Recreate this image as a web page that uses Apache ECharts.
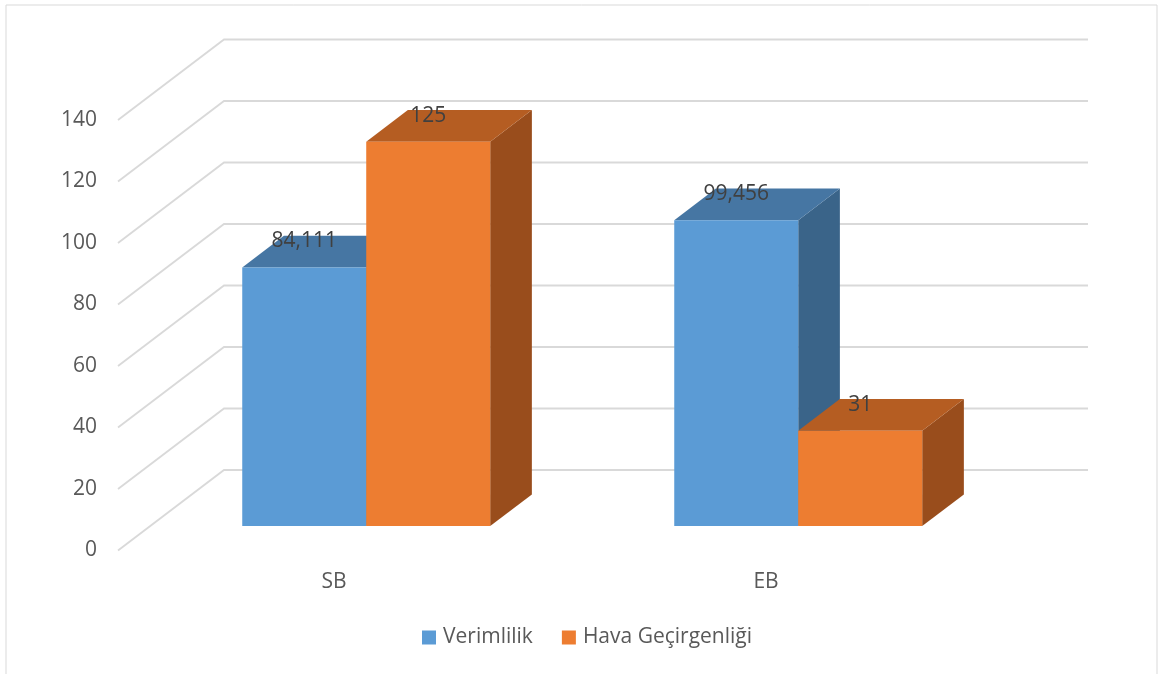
<!DOCTYPE html>
<html>
<head>
<meta charset="utf-8">
<script src="https://cdn.jsdelivr.net/npm/echarts@6/dist/echarts.min.js"></script>
<style>
  html, body { margin: 0; padding: 0; background: #ffffff; }
  #chart { width: 1159px; height: 674px; }
</style>
</head>
<body>
<div id="chart"></div>
<script>
// Chart data
const categories = ['SB', 'EB'];
const seriesNames = ['Verimlilik', 'Hava Geçirgenliği'];
const verimlilik = [84.111, 99.456];
const havaGecirgenligi = [125, 31];
const yTicks = [0, 20, 40, 60, 80, 100, 120, 140];

// 3D box geometry: offset from the front plane to the back wall,
// and the depth slice occupied by the bars
const DEPTH = [106, -80.5];
const BAR_D0 = 0.304;
const BAR_D1 = 0.697;
const BAR_FRAC = 0.287;

const shades = [
  { front: '#5B9BD5', top: '#4676A3', side: '#3A6489' },
  { front: '#ED7D31', top: '#B55D22', side: '#994D1C' }
];

const FONT = '"Open Sans", "DejaVu Sans", sans-serif';
const FS = 21;

function fmt(v) {
  return String(v).replace('.', ',');
}

// back wall + left wall gridlines
function wallRenderer(params, api) {
  const cs = params.coordSys;
  const children = yTicks.map(function (t) {
    const y = api.coord([0, t])[1];
    return {
      type: 'polyline',
      shape: { points: [
        [cs.x, y],
        [cs.x + DEPTH[0], y + DEPTH[1]],
        [cs.x + cs.width + DEPTH[0], y + DEPTH[1]]
      ] },
      style: { stroke: '#D9D9D9', lineWidth: 1.8, fill: null }
    };
  });
  return { type: 'group', children: children };
}

function barRenderer(si) {
  return function (params, api) {
    const ci = api.value(0);
    const v = api.value(1);
    const base = api.coord([ci, 0]);
    const top = api.coord([ci, v]);
    const band = api.size([1, 0])[0];
    const w = band * BAR_FRAC;
    const x0 = base[0] + (si === 0 ? -w : 0) + DEPTH[0] * BAR_D0;
    const x1 = x0 + w;
    const yb = base[1] + DEPTH[1] * BAR_D0;
    const yt = top[1] + DEPTH[1] * BAR_D0;
    const ddx = DEPTH[0] * (BAR_D1 - BAR_D0);
    const ddy = DEPTH[1] * (BAR_D1 - BAR_D0);
    const c = shades[si];
    return {
      type: 'group',
      children: [
        { type: 'polygon', shape: { points: [[x1, yt], [x1 + ddx, yt + ddy], [x1 + ddx, yb + ddy], [x1, yb]] },
          style: { fill: c.side } },
        { type: 'polygon', shape: { points: [[x0, yt], [x0 + ddx, yt + ddy], [x1 + ddx, yt + ddy], [x1, yt]] },
          style: { fill: c.top } },
        { type: 'rect', shape: { x: x0, y: yt, width: w, height: yb - yt },
          style: { fill: c.front } },
        { type: 'text', x: (x0 + x1) / 2, y: yt - 26,
          style: { text: fmt(v), fill: '#404040', font: FS + 'px ' + FONT, align: 'center', verticalAlign: 'middle' } }
      ]
    };
  };
}

const chart = echarts.init(document.getElementById('chart'), null, { renderer: 'canvas' });

chart.setOption({
  backgroundColor: '#ffffff',
  animation: false,
  grid: { left: 118, right: 177, top: 120, bottom: 123.5, containLabel: false },
  xAxis: {
    type: 'category',
    data: categories,
    axisLine: { show: false },
    axisTick: { show: false },
    splitLine: { show: false },
    axisLabel: { color: '#595959', fontSize: FS, fontFamily: FONT, margin: 21 }
  },
  yAxis: {
    type: 'value',
    min: 0,
    max: 140,
    interval: 20,
    axisLine: { show: false },
    axisTick: { show: false },
    splitLine: { show: false },
    axisLabel: { color: '#595959', fontSize: FS, fontFamily: FONT, margin: 21 }
  },
  legend: {
    data: seriesNames,
    left: 422,
    top: 627,
    padding: 0,
    icon: 'rect',
    itemWidth: 14,
    itemHeight: 14,
    itemGap: 29,
    textStyle: { color: '#595959', fontSize: FS, fontFamily: FONT, lineHeight: 21, padding: [0, 0, 0, 2] }
  },
  graphic: [{
    type: 'rect',
    shape: { x: 6, y: 5, width: 1151, height: 690 },
    style: { fill: null, stroke: '#D9D9D9', lineWidth: 1 },
    silent: true
  }],
  series: [
    {
      type: 'custom',
      name: 'walls',
      renderItem: wallRenderer,
      data: [[0, 0]],
      encode: { x: 0, y: 1 },
      silent: true
    },
    {
      type: 'custom',
      name: seriesNames[0],
      renderItem: barRenderer(0),
      itemStyle: { color: shades[0].front },
      data: verimlilik.map(function (v, i) { return [i, v]; }),
      encode: { x: 0, y: 1 }
    },
    {
      type: 'custom',
      name: seriesNames[1],
      renderItem: barRenderer(1),
      itemStyle: { color: shades[1].front },
      data: havaGecirgenligi.map(function (v, i) { return [i, v]; }),
      encode: { x: 0, y: 1 }
    }
  ]
});
</script>
</body>
</html>
